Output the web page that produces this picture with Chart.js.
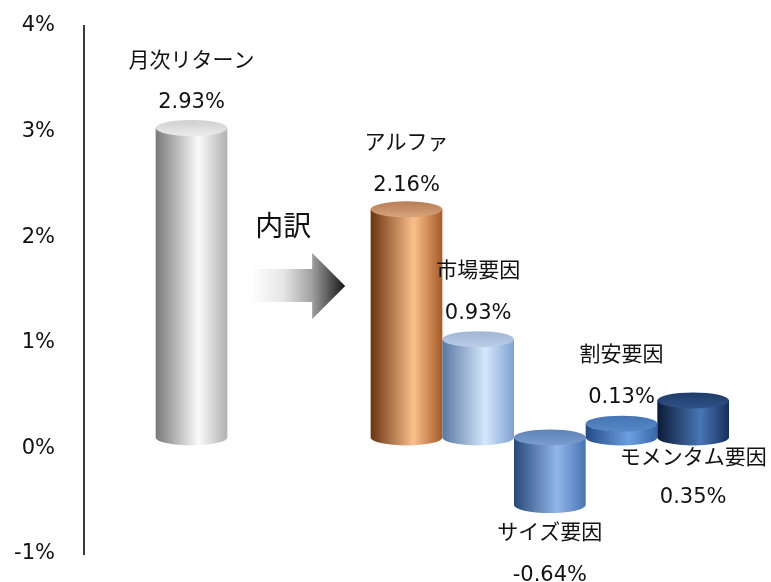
<!DOCTYPE html>
<html><head><meta charset="utf-8">
<script src="https://cdn.jsdelivr.net/npm/chart.js@4"></script>
<style>html,body{margin:0;padding:0;background:#fff}#wrap{width:771px;height:582px;position:relative}</style>
</head><body><div id="wrap"><canvas id="c"></canvas></div>
<script>
// ---- data ----
const categories = ['', '月次リターン', '', '', 'アルファ', '市場要因', 'サイズ要因', '割安要因', 'モメンタム要因'];
const values = [null, 2.93, null, null, 2.16, 0.93, -0.64, 0.13, 0.35];
const valueLabels = ['', '2.93%', '', '', '2.16%', '0.93%', '-0.64%', '0.13%', '0.35%'];
const yTickValues = [-1, 0, 1, 2, 3, 4];
const arrowLabel = '内訳';

// ---- styles ----
const palettes = [
  null,
  ['#787878', '#fbfbfb', '#b0b0b0', '#cfcfcf', '#ebebeb'],
  null, null,
  ['#6a3410', '#fbbf8c', '#a65a26', '#b97c52', '#d5a47e'],
  ['#5a77a2', '#d5e8fc', '#7fa1d2', '#9fb6d6', '#bccde6'],
  ['#27497a', '#93b6e8', '#4874b4', '#5f84b8', '#7a9cce'],
  ['#244a86', '#6c9fe2', '#3766a6', '#4474b4', '#5a88c6'],
  ['#0b1b36', '#4876b6', '#19305c', '#1f3c68', '#2f5288']
];
// label placement: anchor 'value' or 'zero', offsets for name / value text
const placement = [
  null,
  {anchor: 'value', d1: -80, d2: -36},
  null, null,
  {anchor: 'value', d1: -79, d2: -35},
  {anchor: 'value', d1: -81, d2: -37},
  {anchor: 'value', d1: 15, d2: 60},
  {anchor: 'value', d1: -82, d2: -37},
  {anchor: 'zero', d1: 8, d2: 49}
];
const FONT = "'DejaVu Sans', 'Noto Sans CJK JP', sans-serif";
const JFONT = "'Noto Sans CJK JP', 'DejaVu Sans', sans-serif";

const cylPlugin = {
  id: 'cyl',
  afterDatasetsDraw(chart) {
    const ctx = chart.ctx, meta = chart.getDatasetMeta(0);
    const ys = chart.scales.y, xs = chart.scales.x;
    const OFF = 11, RY = 8;

    // arrow + label
    const ac = xs.getPixelForValue(2);
    const ay = ys.getPixelForValue(1.5) - 4;
    const sL = ac - 13, hB = ac + 49, tip = ac + 82;
    ctx.save();
    const ag = ctx.createLinearGradient(sL, 0, tip, 0);
    ag.addColorStop(0, '#ffffff');
    ag.addColorStop(0.35, '#e6e6e6');
    ag.addColorStop(0.65, '#a0a0a0');
    ag.addColorStop(1, '#151515');
    ctx.beginPath();
    ctx.moveTo(sL, ay - 17);
    ctx.lineTo(hB, ay - 17);
    ctx.lineTo(hB, ay - 33);
    ctx.lineTo(tip, ay);
    ctx.lineTo(hB, ay + 33);
    ctx.lineTo(hB, ay + 16);
    ctx.lineTo(sL, ay + 16);
    ctx.closePath();
    ctx.fillStyle = ag;
    ctx.fill();
    ctx.fillStyle = '#111';
    ctx.font = '28px ' + JFONT;
    ctx.textAlign = 'center';
    ctx.textBaseline = 'middle';
    ctx.fillText(arrowLabel, ac + 20, ys.getPixelForValue(2.1) - 1);
    ctx.restore();

    meta.data.forEach((bar, i) => {
      if (values[i] == null) return;
      const p = bar.getProps(['x', 'y', 'base', 'width'], true);
      const rx = p.width / 2, cx = p.x, L = cx - rx, R = cx + rx;
      const yt = Math.min(p.y, p.base) - OFF, yb = Math.max(p.y, p.base) - OFF;
      const pal = palettes[i];
      ctx.save();
      const g = ctx.createLinearGradient(L, 0, R, 0);
      g.addColorStop(0, pal[0]);
      g.addColorStop(0.6, pal[1]);
      g.addColorStop(1, pal[2]);
      ctx.beginPath();
      ctx.moveTo(L, yt);
      ctx.lineTo(L, yb);
      ctx.ellipse(cx, yb, rx, RY, 0, Math.PI, 0, true);
      ctx.lineTo(R, yt);
      ctx.closePath();
      ctx.fillStyle = g;
      ctx.fill();
      const gt = ctx.createLinearGradient(0, yt - RY, 0, yt + RY);
      gt.addColorStop(0, pal[3]);
      gt.addColorStop(1, pal[4]);
      ctx.beginPath();
      ctx.ellipse(cx, yt, rx, RY, 0, 0, Math.PI * 2);
      ctx.fillStyle = gt;
      ctx.fill();
      ctx.restore();

      // labels
      const pl = placement[i];
      const ay0 = pl.anchor === 'value' ? ys.getPixelForValue(values[i]) : ys.getPixelForValue(0);
      ctx.save();
      ctx.fillStyle = '#111';
      ctx.textAlign = 'center';
      ctx.textBaseline = 'middle';
      ctx.font = '21px ' + JFONT;
      ctx.fillText(categories[i], cx, ay0 + pl.d1);
      ctx.font = '21px ' + FONT;
      ctx.fillText(valueLabels[i], cx, ay0 + pl.d2);
      ctx.restore();
    });
  }
};

new Chart(document.getElementById('c'), {
  type: 'bar',
  data: {
    labels: categories,
    datasets: [{
      data: values,
      backgroundColor: 'rgba(0,0,0,0)',
      borderWidth: 0,
      categoryPercentage: 1,
      barPercentage: 1
    }]
  },
  options: {
    responsive: true,
    maintainAspectRatio: false,
    animation: false,
    layout: {padding: {top: 26, right: 42, bottom: 28, left: 0}},
    plugins: {legend: {display: false}, tooltip: {enabled: false}},
    scales: {
      x: {display: false, offset: true},
      y: {
        min: -1, max: 4,
        afterFit: s => { s.width = 84; s.paddingTop = 0; s.paddingBottom = 0; },
        afterBuildTicks: s => { s.ticks = yTickValues.map(v => ({value: v})); },
        grid: {display: false, drawTicks: false},
        border: {display: true, color: '#3a3a3a', width: 2},
        ticks: {
          padding: 29,
          color: '#111',
          font: {family: FONT, size: 21},
          callback: v => v + '%'
        }
      }
    }
  },
  plugins: [cylPlugin]
});
</script>
</body></html>
